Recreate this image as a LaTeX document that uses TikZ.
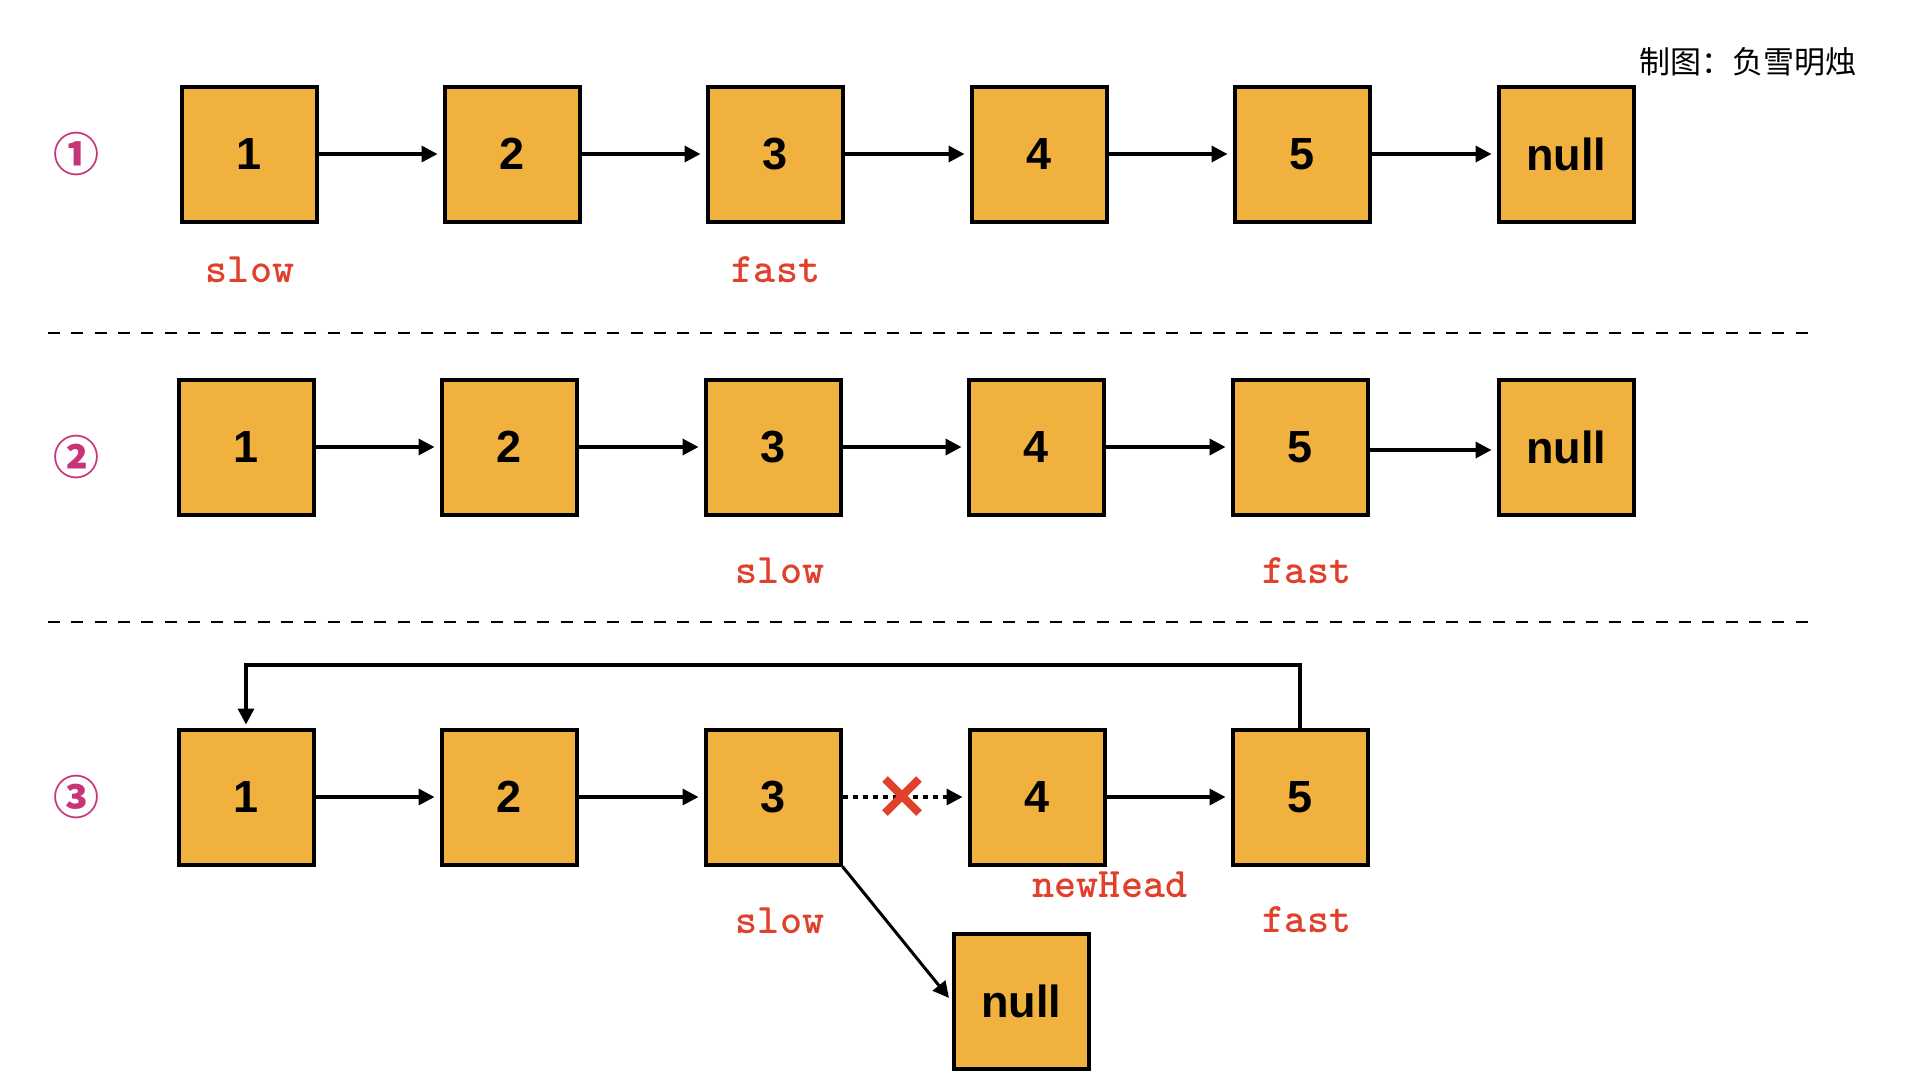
\documentclass[tikz,border=0pt]{standalone}
\usepackage{fontspec}
\setmainfont{Liberation Sans}
\newfontfamily\cjkfont{Noto Sans CJK SC}
\usetikzlibrary{arrows.meta}
\definecolor{nodefill}{RGB}{241,177,62}
\definecolor{ptrred}{RGB}{224,64,44}
\definecolor{stepmag}{RGB}{200,52,122}
\tikzset{
    listnode/.style={draw=black,fill=nodefill,line width=4pt,minimum size=135pt,inner sep=0pt,
        font=\fontsize{45}{54}\selectfont\bfseries},
    ptr/.style={text=ptrred,anchor=base,inner sep=0pt,font=\ttfamily\fontsize{42}{48}\selectfont\bfseries},
    link/.style={line width=3.5pt,-{Triangle[length=16pt,width=16pt]},shorten >=5pt},
    stepno/.style={text=stepmag,inner sep=0pt,font=\cjkfont\fontsize{46}{50}\selectfont\bfseries},
    sepline/.style={line width=2.5pt,dash pattern=on 12pt off 11.3pt},
}

\begin{document}
\begin{tikzpicture}[x=1pt,y=-1pt]
    \useasboundingbox (0,0) rectangle (1920,1080);

    \node[anchor=west,inner sep=0pt,font=\cjkfont\fontsize{31}{36}\selectfont] (credit) at (1639,62) {制图：负雪明烛};

    % step 1
    \node[stepno] (s1) at (76,154) {①};
    \node[listnode] (a1) at (249,154) {1};
    \node[listnode] (a2) at (512,154) {2};
    \node[listnode] (a3) at (775,154) {3};
    \node[listnode] (a4) at (1039,154) {4};
    \node[listnode] (a5) at (1302,154) {5};
    \node[listnode] (a6) at (1566,154) {null};
    \foreach \i/\j in {1/2,2/3,3/4,4/5,5/6}
        \draw[link] (a\i.east) -- (a\j.west);
    \node[ptr] (aslow) at (250,282) {slow};
    \node[ptr] (afast) at (776,282) {fast};

    \draw[sepline] (48,333) -- (1812,333);

    % step 2
    \node[stepno] (s2) at (76,457) {②};
    \node[listnode] (b1) at (246,447) {1};
    \node[listnode] (b2) at (509,447) {2};
    \node[listnode] (b3) at (773,447) {3};
    \node[listnode] (b4) at (1036,447) {4};
    \node[listnode] (b5) at (1300,447) {5};
    \node[listnode] (b6) at (1566,447) {null};
    \foreach \i/\j in {1/2,2/3,3/4,4/5}
        \draw[link] (b\i.east) -- (b\j.west);
    \draw[link] ([yshift=-3pt]b5.east) -- ([yshift=-3pt]b6.west);
    \node[ptr] (bslow) at (780,583) {slow};
    \node[ptr] (bfast) at (1307,583) {fast};

    \draw[sepline] (48,622) -- (1812,622);

    % step 3
    \node[stepno] (s3) at (76,797) {③};
    \node[listnode] (c1) at (246,797) {1};
    \node[listnode] (c2) at (509,797) {2};
    \node[listnode] (c3) at (773,797) {3};
    \node[listnode] (c4) at (1037,797) {4};
    \node[listnode] (c5) at (1300,797) {5};
    \node[listnode] (cn) at (1021,1001) {null};
    \draw[link] (c1.east) -- (c2.west);
    \draw[link] (c2.east) -- (c3.west);
    \draw[link] (c4.east) -- (c5.west);
    \draw[link,dash pattern=on 5pt off 5pt] (c3.east) -- (c4.west);
    \draw[link,line width=3pt,shorten >=4pt] (c3.south east) -- (cn.west);
    \coordinate (looptop) at (0,665);
    \draw[link,shorten >=3pt] (c5.north) -- (c5.north |- looptop) -- (c1.north |- looptop) -- (c1.north);
    % broken link
    \coordinate (cut) at (902,796);
    \draw[ptrred,line width=8pt] (cut) ++(-17,-17) -- ++(34,34) (cut) ++(-17,17) -- ++(34,-34);
    \node[ptr] (cslow) at (780,933) {slow};
    \node[ptr] (cfast) at (1307,932) {fast};
    \node[ptr] (chead) at (1110,897) {newHead};
\end{tikzpicture}
\end{document}
